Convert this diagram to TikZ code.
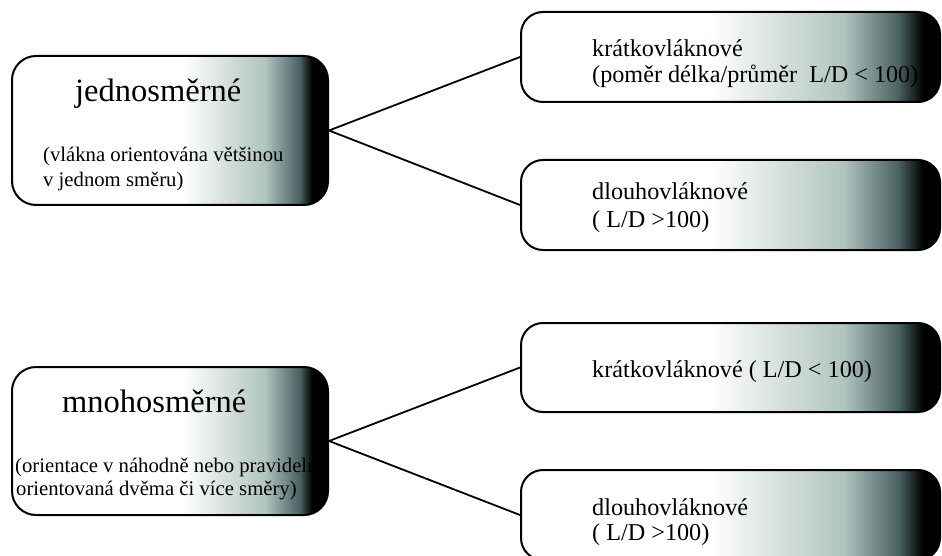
\documentclass[tikz,border=0pt]{standalone}
\usepackage{fontspec}
\setmainfont{Liberation Serif}
\definecolor{cone}{HTML}{B0C4C0}
\definecolor{ctwo}{HTML}{4A6262}
\pgfdeclarehorizontalshading{leftshade}{100bp}{color(0bp)=(white); color(52bp)=(white); color(65bp)=(cone); color(70.5bp)=(ctwo); color(72.5bp)=(black); color(100bp)=(black)}
\pgfdeclarehorizontalshading{rightshade}{100bp}{color(0bp)=(white); color(47.5bp)=(white); color(63.5bp)=(cone); color(70bp)=(ctwo); color(73bp)=(black); color(100bp)=(black)}
\tikzset{
  boxbase/.style={draw=black, line width=2pt, rectangle, rounded corners=24pt, inner sep=0pt},
  leftbox/.style={boxbase, shading=leftshade, minimum width=316pt},
  rightbox/.style={boxbase, shading=rightshade, minimum width=419pt, minimum height=90pt, rounded corners=22pt},
  titletext/.style={anchor=base west, inner sep=0pt, font=\fontsize{32.5}{36}\selectfont},
  smalltext/.style={anchor=base west, inner sep=0pt, font=\fontsize{20.7}{24}\selectfont},
  righttext/.style={anchor=base west, inner sep=0pt, font=\fontsize{24.2}{27}\selectfont},
  link/.style={draw=black, line width=1.8pt}
}
\begin{document}
\begin{tikzpicture}[x=1pt,y=-1pt]
\useasboundingbox (0,0) rectangle (942,556);
\clip (0,0) rectangle (942,556);
% boxes
\node[leftbox, minimum height=149pt] (b1) at (170,130.5) {};
\node[rightbox] (b2) at (730.5,57) {};
\node[rightbox] (b3) at (730.5,205) {};
\node[leftbox, minimum height=148pt] (b4) at (170,441) {};
\node[rightbox, minimum height=89pt] (b5) at (730.5,367.5) {};
\node[rightbox] (b6) at (730.5,515) {};
% connectors
\draw[link] (b2.west) -- (b1.east) -- (b3.west);
\draw[link] (b5.west) -- (b4.east) -- (b6.west);
% texts box 1
\node[titletext] (t1) at (75,102) {jednosměrné};
\node[smalltext] (t1a) at (43,162) {(vlákna orientována většinou};
\node[smalltext] (t1b) at (43,187) {v jednom směru)};
% box 2
\node[righttext] (t2a) at (592,57) {krátkovláknové};
\node[righttext] (t2b) at (592,83) {(poměr délka/průměr\ \ L/D < 100)};
% box 3
\node[righttext] (t3a) at (592,200) {dlouhovláknové};
\node[righttext] (t3b) at (592,227) {( L/D >100)};
% box 4
\node[titletext] (t4) at (62,412) {mnohosměrné};
\node[smalltext] (t4a) at (15,472) {(orientace v náhodně nebo pravideln};
\node[smalltext] (t4b) at (16,495) {orientovaná dvěma či více směry)};
% box 5
\node[righttext] (t5a) at (592,377) {krátkovláknové ( L/D < 100)};
% box 6
\node[righttext] (t6a) at (592,515) {dlouhovláknové};
\node[righttext] (t6b) at (592,540) {( L/D >100)};
\end{tikzpicture}
\end{document}
